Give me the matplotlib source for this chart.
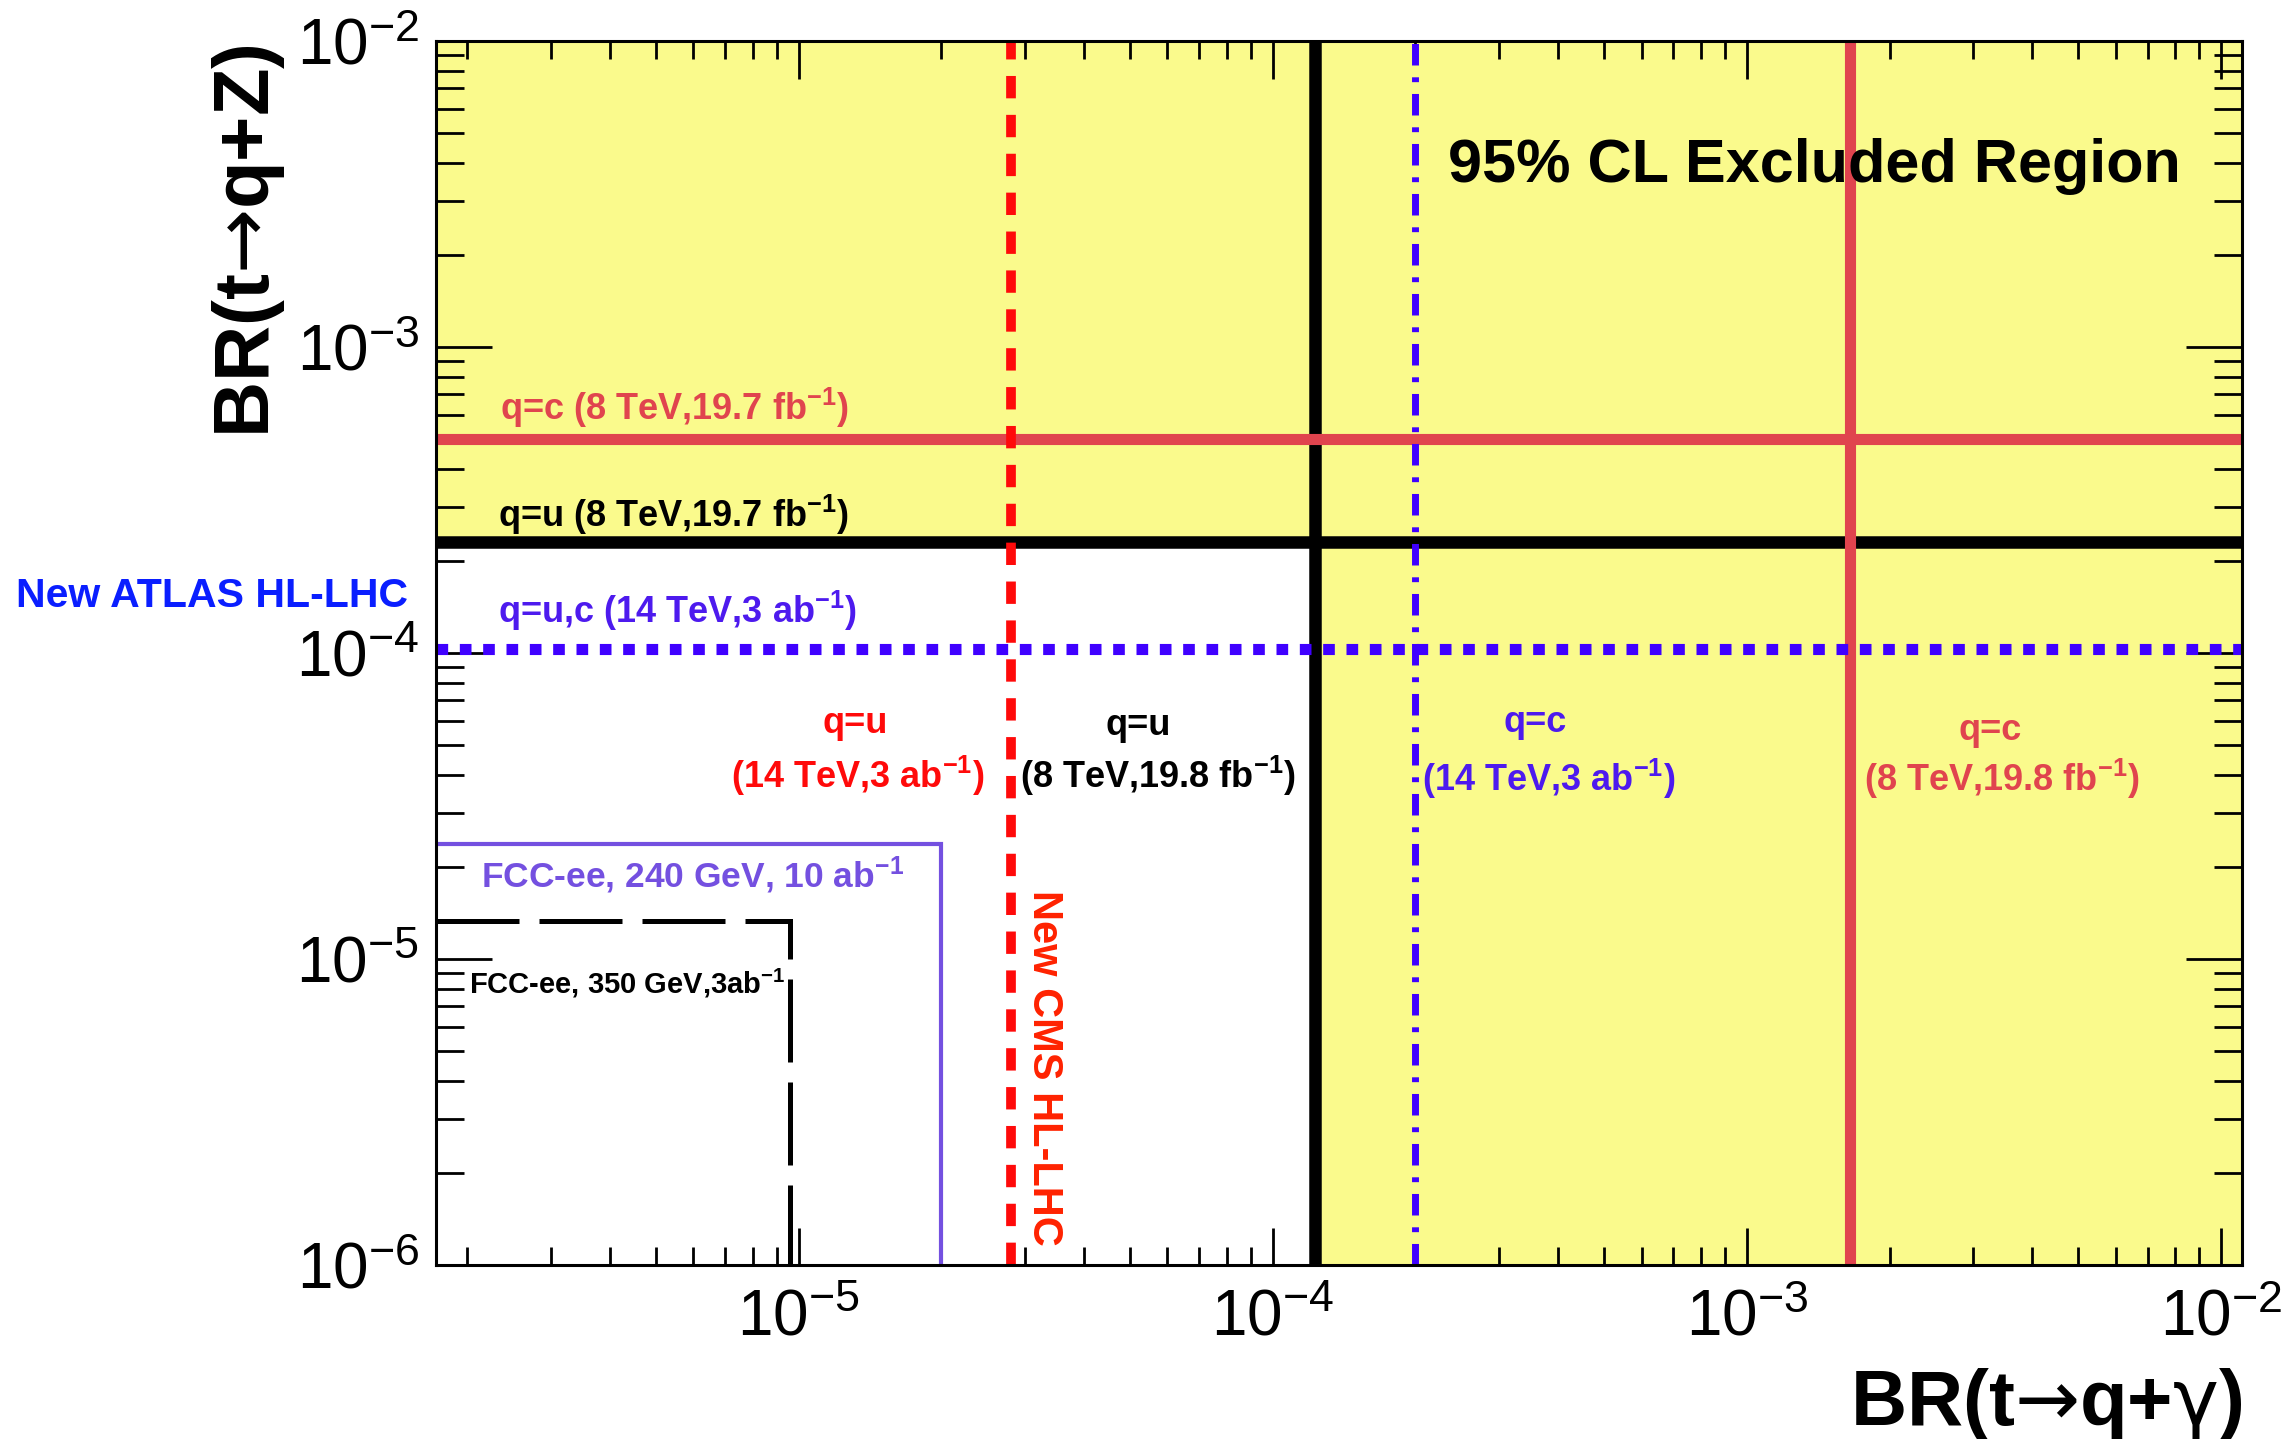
import math

import matplotlib
matplotlib.use('Agg')
import matplotlib.pyplot as plt
import numpy as np
from matplotlib.ticker import FuncFormatter, LogLocator, NullFormatter

plt.rcParams['font.family'] = ['Liberation Sans', 'DejaVu Sans']
plt.rcParams['mathtext.default'] = 'regular'

# 95% CL upper limits on BR(t->qZ), drawn as horizontal lines
z_labels = ['q=c (8 TeV,19.7 fb$^{-1}$)',
            'q=u (8 TeV,19.7 fb$^{-1}$)',
            'q=u,c (14 TeV,3 ab$^{-1}$)']
z_limits = [5.0e-4, 2.3e-4, 1.03e-4]

# 95% CL upper limits on BR(t->q gamma), drawn as vertical lines
gamma_quark = ['q=u', 'q=u', 'q=c', 'q=c']
gamma_run = ['(14 TeV,3 ab$^{-1}$)', '(8 TeV,19.8 fb$^{-1}$)',
             '(14 TeV,3 ab$^{-1}$)', '(8 TeV,19.8 fb$^{-1}$)']
gamma_limits = [2.8e-5, 1.23e-4, 2.0e-4, 1.65e-3]

# FCC-ee reach, corner of each box as (gamma, Z)
fcc_labels = ['FCC-ee, 240 GeV, 10 ab$^{-1}$', 'FCC-ee, 350 GeV,3ab$^{-1}$']
fcc_gamma = [2.0e-5, 9.6e-6]
fcc_z = [2.37e-5, 1.33e-5]

x_range = (1.72e-6, 1.107e-2)
y_range = (1e-6, 1e-2)

yellow = '#FAFA8C'
red_soft = '#E0444E'
red = '#FF0A0A'
blue = '#3F00FF'
blue_text = '#4D1AEE'
purple = '#7450E0'

fig = plt.figure(figsize=(22.9, 14.39), dpi=100)
ax = fig.add_axes([436 / 2290, 1 - 1265 / 1439, 1806 / 2290, 1224 / 1439])
ax.set_xscale('log')
ax.set_yscale('log')
ax.set_xlim(*x_range)
ax.set_ylim(*y_range)

# excluded region from the 8 TeV q=u limits
ax.axhspan(z_limits[1], y_range[1], color=yellow, lw=0, zorder=0)
ax.axvspan(gamma_limits[1], x_range[1], color=yellow, lw=0, zorder=0)

# 8 TeV q=u limits (black), under everything else
ax.axhline(z_limits[1], color='black', lw=9, zorder=2)
ax.axvline(gamma_limits[1], color='black', lw=9, zorder=2)

# 8 TeV q=c limits
ax.axhline(z_limits[0], color=red_soft, lw=8, zorder=3)
ax.axvline(gamma_limits[3], color=red_soft, lw=8, zorder=3)

# HL-LHC projections
ax.axhline(z_limits[2], color=blue, lw=8, dashes=(1.05, 1.05),
           dash_capstyle='butt', zorder=4)
ax.axvline(gamma_limits[2], color=blue, lw=5, dashes=(3.1, 1.7, 0.7, 1.7),
           dash_capstyle='butt', zorder=4)
ax.axvline(gamma_limits[0], color=red, lw=7, dashes=(2.3, 1.7),
           dash_capstyle='butt', zorder=5)

# FCC-ee boxes
ax.plot([x_range[0], fcc_gamma[0], fcc_gamma[0]], [fcc_z[0], fcc_z[0], y_range[0]],
        color=purple, lw=3, solid_joinstyle='miter', zorder=3)
ax.plot([x_range[0], fcc_gamma[1], fcc_gamma[1]], [fcc_z[1], fcc_z[1], y_range[0]],
        color='black', lw=3.6, dashes=(16.6, 4), dash_capstyle='butt',
        dash_joinstyle='miter', zorder=3)

# labels
lab = dict(fontsize=26, fontweight='bold', va='baseline', zorder=6)
ax.text(2.35e-6, 5.77e-4, z_labels[0], color=red_soft, **lab)
ax.text(2.32e-6, 2.58e-4, z_labels[1], color='black', **lab)
ax.text(2.32e-6, 1.25e-4, z_labels[2], color=blue_text, **lab)

gcol = [red, 'black', blue_text, red_soft]
quark_pos = [(1.32e-5, 5.48e-5), (5.2e-5, 5.4e-5), (3.57e-4, 5.52e-5), (3.26e-3, 5.2e-5)]
run_pos = [(1.33e-5, 3.62e-5), (5.72e-5, 3.62e-5), (3.82e-4, 3.54e-5), (3.45e-3, 3.54e-5)]
for i in range(4):
    ax.text(*quark_pos[i], gamma_quark[i], color=gcol[i], ha='center', **lab)
    ax.text(*run_pos[i], gamma_run[i], color=gcol[i], ha='center', **lab)

ax.text(2.14e-6, 1.72e-5, fcc_labels[0], color=purple, fontsize=25.5,
        fontweight='bold', va='baseline', zorder=6)
ax.text(2.02e-6, 7.74e-6, fcc_labels[1], color='black', fontsize=21,
        fontweight='bold', va='baseline', zorder=6)

ax.text(3.13e-5, 1.68e-5, 'New CMS HL-LHC', rotation=-90, rotation_mode='anchor',
        ha='left', va='baseline', color='#FF2200', fontsize=30, fontweight='bold')
ax.text(-0.2326, 0.5376, 'New ATLAS HL-LHC', transform=ax.transAxes,
        color='#0A1EFF', fontsize=29.5, fontweight='bold', va='baseline', ha='left')
ax.text(0.5604, 0.8848, '95% CL Excluded Region', transform=ax.transAxes,
        fontsize=44, fontweight='bold', va='baseline', ha='left', zorder=6)

ax.set_xlabel('BR(t$\\mathrm{\u2192}$q+$\\mathrm{\\gamma}$)', loc='right',
              fontsize=56, fontweight='bold', va='baseline')
ax.xaxis.set_label_coords(1.0, -0.1307)
ax.set_ylabel('BR(t$\\mathrm{\u2192}$q+Z)', loc='top',
              fontsize=56, fontweight='bold', va='baseline')
ax.yaxis.set_label_coords(-0.0925, 0.997)

# ROOT-style ticks on all four sides
fmt = FuncFormatter(lambda v, pos: r'$\mathregular{10^{%d}}$' % round(math.log10(v)))
for axis in (ax.xaxis, ax.yaxis):
    axis.set_major_locator(LogLocator(base=10, numticks=20))
    axis.set_minor_locator(LogLocator(base=10, subs=np.arange(2, 10), numticks=50))
    axis.set_major_formatter(fmt)
    axis.set_minor_formatter(NullFormatter())

ax.tick_params(which='both', direction='in', top=True, right=True, width=2)
ax.tick_params(axis='y', which='major', length=40, pad=12, labelsize=46)
ax.tick_params(axis='y', which='minor', length=20)
ax.tick_params(axis='x', which='major', length=27, pad=17, labelsize=46)
ax.tick_params(axis='x', which='minor', length=13)
for s in ax.spines.values():
    s.set_linewidth(2.2)
    s.set_zorder(7)

fig.savefig('out.png', dpi=100)
